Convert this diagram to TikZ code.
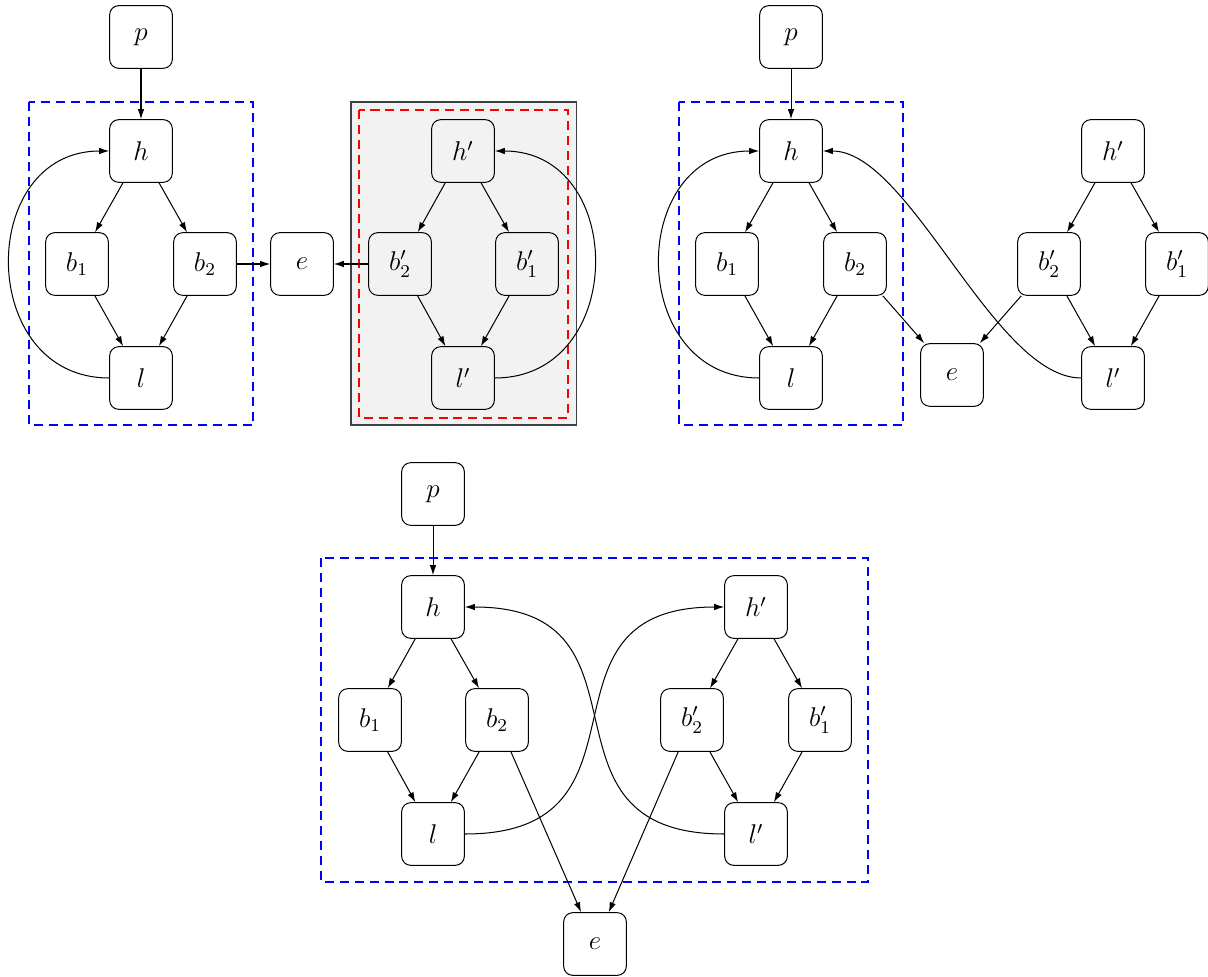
\documentclass[tikz,border=0pt]{standalone}
\usetikzlibrary{arrows.meta}
\begin{document}
\begin{tikzpicture}[x=0.015564cm,y=-0.015564cm,
  box/.style={draw,rounded corners=4pt,minimum size=0.975cm,inner sep=0pt,line width=0.45pt,font=\large},
  edge/.style={-{Latex[length=4.4pt,width=2.9pt]},line width=0.45pt},
  bluebox/.style={draw=blue,dash pattern=on 4pt off 2.6pt,line width=0.9pt},
  redbox/.style={draw=red,dash pattern=on 4pt off 2.6pt,line width=0.9pt},
  graybox/.style={draw=black!75,fill=black!5,line width=0.45pt}]
\useasboundingbox (0,0) rectangle (1208,977);

% ---------- containers ----------
\draw[bluebox] (29,102) rectangle (253,425);
\draw[graybox] (351,102) rectangle (576,425);
\draw[redbox] (359,110) rectangle (568,418);
\draw[bluebox] (679,102) rectangle (903,425);
\draw[bluebox] (321,558) rectangle (868,882);

% ---------- top-left diagram ----------
\node[box] (pA)   at (141,37)  {$p$};
\node[box] (hA)   at (141,151) {$h$};
\node[box] (b1A)  at (77,264)  {$b_1$};
\node[box] (b2A)  at (205,264) {$b_2$};
\node[box] (lA)   at (141,378) {$l$};
\node[box] (eA)   at (302,264) {$e$};
\node[box] (hpA)  at (463,151) {$h'$};
\node[box] (b2pA) at (400,264) {$b'_2$};
\node[box] (b1pA) at (527,264) {$b'_1$};
\node[box] (lpA)  at (463,378) {$l'$};

\draw[edge] (pA) -- (hA);
\draw[edge] (hA) -- (b1A);
\draw[edge] (hA) -- (b2A);
\draw[edge] (b1A) -- (lA);
\draw[edge] (b2A) -- (lA);
\draw[edge] (lA) to[out=180,in=180,looseness=1.5] (hA);
\draw[edge] (b2A) -- (eA);
\draw[edge] (b2pA) -- (eA);
\draw[edge] (hpA) -- (b2pA);
\draw[edge] (hpA) -- (b1pA);
\draw[edge] (b2pA) -- (lpA);
\draw[edge] (b1pA) -- (lpA);
\draw[edge] (lpA) to[out=0,in=0,looseness=1.5] (hpA);

% ---------- top-right diagram ----------
\node[box] (pB)   at (791,37)  {$p$};
\node[box] (hB)   at (791,151) {$h$};
\node[box] (b1B)  at (727,264) {$b_1$};
\node[box] (b2B)  at (855,264) {$b_2$};
\node[box] (lB)   at (791,378) {$l$};
\node[box] (eB)   at (952,375) {$e$};
\node[box] (hpB)  at (1113,151) {$h'$};
\node[box] (b2pB) at (1049,264) {$b'_2$};
\node[box] (b1pB) at (1177,264) {$b'_1$};
\node[box] (lpB)  at (1113,378) {$l'$};

\draw[edge] (pB) -- (hB);
\draw[edge] (hB) -- (b1B);
\draw[edge] (hB) -- (b2B);
\draw[edge] (b1B) -- (lB);
\draw[edge] (b2B) -- (lB);
\draw[edge] (lB) to[out=180,in=180,looseness=1.5] (hB);
\draw[edge] (b2B) -- (eB);
\draw[edge] (b2pB) -- (eB);
\draw[edge] (hpB) -- (b2pB);
\draw[edge] (hpB) -- (b1pB);
\draw[edge] (b2pB) -- (lpB);
\draw[edge] (b1pB) -- (lpB);
\draw[edge] (lpB) to[out=180,in=0,looseness=0.65] (hB);

% ---------- bottom diagram ----------
\node[box] (pC)   at (433,494) {$p$};
\node[box] (hC)   at (433,607) {$h$};
\node[box] (b1C)  at (370,720) {$b_1$};
\node[box] (b2C)  at (497,720) {$b_2$};
\node[box] (lC)   at (433,834) {$l$};
\node[box] (hpC)  at (756,607) {$h'$};
\node[box] (b2pC) at (692,720) {$b'_2$};
\node[box] (b1pC) at (820,720) {$b'_1$};
\node[box] (lpC)  at (756,834) {$l'$};
\node[box] (eC)   at (595,944) {$e$};

\draw[edge] (pC) -- (hC);
\draw[edge] (hC) -- (b1C);
\draw[edge] (hC) -- (b2C);
\draw[edge] (b1C) -- (lC);
\draw[edge] (b2C) -- (lC);
\draw[edge] (hpC) -- (b2pC);
\draw[edge] (hpC) -- (b1pC);
\draw[edge] (b2pC) -- (lpC);
\draw[edge] (b1pC) -- (lpC);
\draw[edge] (b2C) -- (eC);
\draw[edge] (b2pC) -- (eC);
\draw[edge] (lC) to[out=0,in=180,looseness=1.5] (hpC);
\draw[edge] (lpC) to[out=180,in=0,looseness=1.5] (hC);
\end{tikzpicture}
\end{document}
